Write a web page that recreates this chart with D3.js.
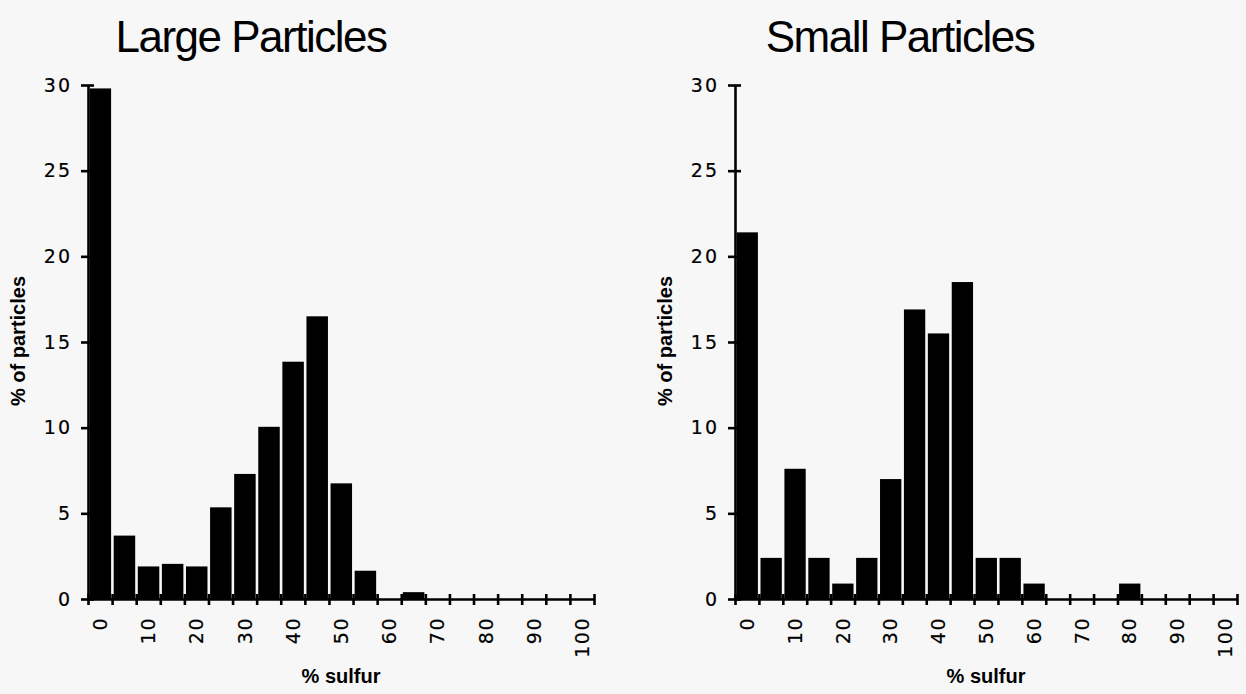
<!DOCTYPE html>
<html>
<head>
<meta charset="utf-8">
<script src="https://cdn.jsdelivr.net/npm/d3@7"></script>
<style>
    html, body { margin: 0; padding: 0; background: #f7f7f7; }
    svg { display: block; }
</style>
</head>
<body>
<svg id="chart" width="1246" height="694"></svg>
<script>
// -----------------------------
//  DATA
// -----------------------------
const binStarts = [0, 5, 10, 15, 20, 25, 30, 35, 40, 45, 50, 55, 60, 65, 70, 75, 80, 85, 90, 95, 100];
const largeValues = [29.8, 3.7, 1.9, 2.05, 1.9, 5.35, 7.3, 10.05, 13.85, 16.5, 6.75, 1.65, 0, 0.4, 0, 0, 0, 0, 0, 0, 0];
const smallValues = [21.4, 2.4, 7.6, 2.4, 0.9, 2.4, 7.0, 16.9, 15.5, 18.5, 2.4, 2.4, 0.9, 0, 0, 0, 0.9, 0, 0, 0, 0];
const yTicks = [0, 5, 10, 15, 20, 25, 30];
const xLabels = [0, 10, 20, 30, 40, 50, 60, 70, 80, 90, 100];
const titles = ["Large Particles", "Small Particles"];
const yTitle = "% of particles";
const xTitle = "% sulfur";

const binWidth = 5;
const svg = d3.select("#chart");

// panel frames (pixels)
const panels = [
    { title: titles[0], values: largeValues, left: 88, right: 594, titleX: 251 },
    { title: titles[1], values: smallValues, left: 735, right: 1237, titleX: 900 }
];
const plotTop = 85;
const plotBottom = 599;

const tickFont = "'DejaVu Sans', sans-serif";
const labelFont = "'Liberation Sans', Arial, sans-serif";

// -----------------------------
//  DRAW ONE PANEL
// -----------------------------
function drawPanel(p) {
    const x = d3.scaleLinear().domain([0, 105]).range([p.left, p.right]);
    const y = d3.scaleLinear().domain([0, 30]).range([plotBottom, plotTop]);
    const g = svg.append("g");

    // title
    g.append("text")
        .attr("x", p.titleX)
        .attr("y", 52)
        .attr("text-anchor", "middle")
        .attr("font-family", labelFont)
        .attr("font-size", 44)
        .attr("letter-spacing", "-1.5px")
        .attr("fill", "#000")
        .text(p.title);

    // bars
    const bins = binStarts.map((b, i) => ({ bin: b, value: p.values[i] }));
    g.append("g")
        .selectAll("rect")
        .data(bins.filter((d) => d.value > 0))
        .enter()
        .append("rect")
        .attr("x", (d) => x(d.bin) + 1.6)
        .attr("width", (d) => x(d.bin + binWidth) - x(d.bin) - 2.6)
        .attr("y", (d) => y(d.value))
        .attr("height", (d) => y(0) - y(d.value))
        .attr("fill", "#000");

    // y axis (ticks cross the line)
    const yAxis = g.append("g")
        .attr("transform", `translate(${p.left},0)`)
        .call(d3.axisLeft(y).tickValues(yTicks).tickSizeInner(7).tickSizeOuter(0).tickPadding(9));
    yAxis.select(".domain").attr("stroke", "#000").attr("stroke-width", 2.6);
    yAxis.selectAll(".tick line").attr("x1", 6).attr("stroke", "#000").attr("stroke-width", 2.6);
    yAxis.selectAll(".tick text")
        .attr("font-family", tickFont)
        .attr("font-size", 19)
        .attr("letter-spacing", "2px")
        .attr("stroke", "#000")
        .attr("stroke-width", 0.2)
        .attr("fill", "#000");

    // x axis: ticks at bin edges
    const xAxis = g.append("g")
        .attr("transform", `translate(0,${plotBottom})`)
        .call(d3.axisBottom(x).tickValues(d3.range(0, 106, binWidth)).tickFormat("").tickSizeInner(6).tickSizeOuter(0));
    xAxis.select(".domain").attr("stroke", "#000").attr("stroke-width", 2.6);
    xAxis.selectAll(".tick line").attr("y1", -5).attr("stroke", "#000").attr("stroke-width", 2.6);

    // x labels at bin centres, rotated
    g.append("g")
        .selectAll("text")
        .data(xLabels)
        .enter()
        .append("text")
        .attr("transform", (d) => `translate(${x(d + binWidth / 2) + 7},617) rotate(-90)`)
        .attr("text-anchor", "end")
        .attr("font-family", tickFont)
        .attr("font-size", 19)
        .attr("letter-spacing", "1.5px")
        .attr("stroke", "#000")
        .attr("stroke-width", 0.2)
        .attr("fill", "#000")
        .text((d) => d);

    // axis titles
    g.append("text")
        .attr("transform", `translate(${p.left - 63},${(plotTop + plotBottom) / 2 - 1}) rotate(-90)`)
        .attr("text-anchor", "middle")
        .attr("font-family", labelFont)
        .attr("font-weight", "bold")
        .attr("font-size", 20)
        .attr("fill", "#000")
        .text(yTitle);

    g.append("text")
        .attr("x", (p.left + p.right) / 2)
        .attr("y", 683)
        .attr("text-anchor", "middle")
        .attr("font-family", labelFont)
        .attr("font-weight", "bold")
        .attr("font-size", 20)
        .attr("fill", "#000")
        .text(xTitle);
}

panels.forEach(drawPanel);
</script>
</body>
</html>
